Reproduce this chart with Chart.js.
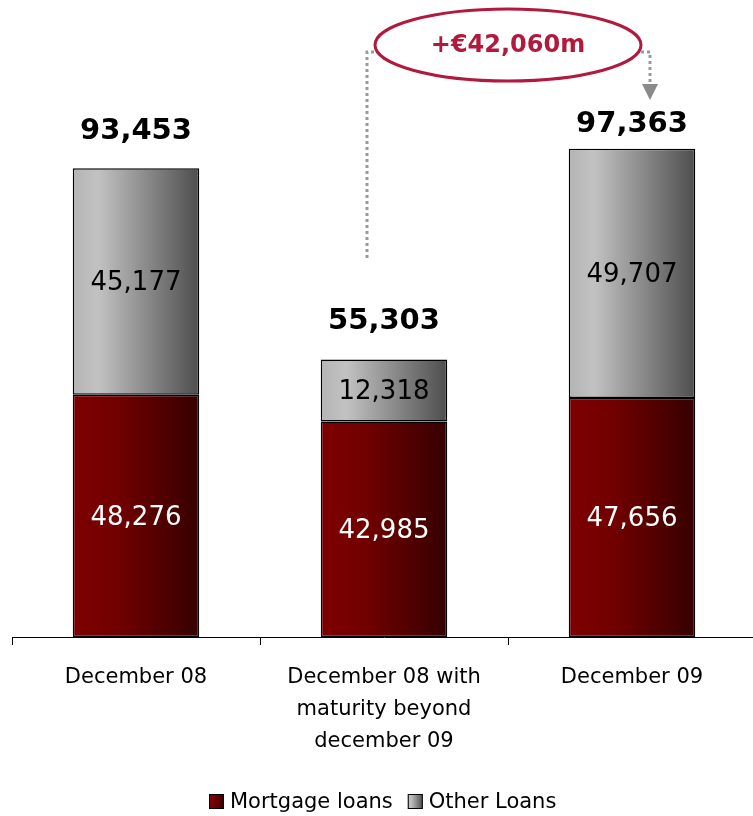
<!DOCTYPE html>
<html>
<head>
<meta charset="utf-8">
<script src="https://cdn.jsdelivr.net/npm/chart.js@4.4.1/dist/chart.umd.min.js"></script>
<style>
  html, body { margin: 0; padding: 0; background: #fff; overflow: hidden; }
</style>
</head>
<body>
<canvas id="loans" width="760" height="816"></canvas>
<script>
// loan book by type (€m)
const categories = [
    ['December 08'],
    ['December 08 with', 'maturity beyond', 'december 09'],
    ['December 09']
];
const mortgageLoans = [48276, 42985, 47656];
const otherLoans = [45177, 12318, 49707];
const seriesNames = ['Mortgage loans', 'Other Loans'];

const totals = mortgageLoans.map((v, i) => v + otherLoans[i]);
const change = totals[2] - totals[1];

const FONT = '"DejaVu Sans", Verdana, sans-serif';
const BAR_PCT = 0.51;
const totalLift = [37, 38, 24];

const redStops = [[0, '#7e0000'], [0.35, '#720000'], [1, '#360000']];
const greyStops = [[0, '#b4b4b4'], [0.2, '#c2c2c2'], [1, '#4e4e4e']];

const fmt = v => v.toLocaleString('en-US');

// horizontal gradient spanning one bar
function barGradient(context, stops) {
    const chart = context.chart;
    const xs = chart.scales.x;
    if (!chart.chartArea || !xs || !xs.width) return stops[0][1];
    const cx = xs.getPixelForValue(context.dataIndex);
    const half = (xs.width / categories.length) * BAR_PCT / 2;
    const g = chart.ctx.createLinearGradient(cx - half, 0, cx + half, 0);
    stops.forEach(([o, c]) => g.addColorStop(o, c));
    return g;
}

function fillSwatch(c, x, y, size, stops) {
    const g = c.createLinearGradient(x, 0, x + size, 0);
    stops.forEach(([o, col]) => g.addColorStop(o, col));
    c.fillStyle = g;
    c.fillRect(x, y, size, size);
    c.strokeStyle = '#000';
    c.lineWidth = 1;
    c.strokeRect(x + 0.5, y + 0.5, size - 1, size - 1);
}

const barLabels = {
    id: 'barLabels',
    afterDatasetsDraw(chart) {
        const c = chart.ctx;
        c.save();
        c.textAlign = 'center';
        c.textBaseline = 'middle';
        chart.data.datasets.forEach((ds, di) => {
            chart.getDatasetMeta(di).data.forEach((bar, i) => {
                c.font = '26px ' + FONT;
                c.fillStyle = di === 0 ? '#fff' : '#000';
                c.fillText(fmt(ds.data[i]), bar.x, (bar.y + bar.base) / 2 + 2);
            });
        });
        const xs = chart.scales.x, ys = chart.scales.y;
        c.font = 'bold 29px ' + FONT;
        c.fillStyle = '#000';
        totals.forEach((t, i) => {
            c.fillText(fmt(t), xs.getPixelForValue(i), ys.getPixelForValue(t) - totalLift[i]);
        });
        c.restore();
    }
};

// legend row under the axis labels
const swatchLegend = {
    id: 'swatchLegend',
    afterDraw(chart) {
        const c = chart.ctx;
        const stops = [redStops, greyStops];
        const box = 15, gapText = 6, gapItem = 15, y = 803;
        c.save();
        c.font = '21px ' + FONT;
        c.textBaseline = 'middle';
        c.textAlign = 'left';
        const widths = seriesNames.map(n => box + gapText + c.measureText(n).width);
        const total = widths.reduce((a, b) => a + b, 0) + gapItem * (widths.length - 1);
        let x = Math.round(383 - total / 2);
        seriesNames.forEach((n, i) => {
            fillSwatch(c, x, y - 9, box, stops[i]);
            c.fillStyle = '#000';
            c.fillText(n, x + box + gapText, y);
            x += widths[i] + gapItem;
        });
        c.restore();
    }
};

// bubble with the increase and the dotted connector
const changeCallout = {
    id: 'changeCallout',
    afterDraw(chart) {
        const c = chart.ctx;
        const xs = chart.scales.x;
        const x1 = xs.getPixelForValue(1);
        const x2 = xs.getPixelForValue(2);
        const cx = (x1 + x2) / 2, cy = 45;
        const rx = 133, ry = 36;
        const lx = x1 - 17, rxPos = x2 + 18;

        c.save();
        c.strokeStyle = '#9a9a9a';
        c.lineWidth = 3;
        c.setLineDash([3, 3]);
        c.beginPath();
        c.moveTo(lx, 258);
        c.lineTo(lx, 52);
        c.lineTo(cx - rx, 52);
        c.stroke();
        c.beginPath();
        c.moveTo(cx + rx, 52);
        c.lineTo(rxPos, 52);
        c.lineTo(rxPos, 84);
        c.stroke();
        c.setLineDash([]);
        c.fillStyle = '#8a8a8a';
        c.beginPath();
        c.moveTo(rxPos - 8, 84);
        c.lineTo(rxPos + 8, 84);
        c.lineTo(rxPos, 100);
        c.closePath();
        c.fill();

        c.fillStyle = '#fff';
        c.strokeStyle = '#b11a3c';
        c.lineWidth = 3;
        c.beginPath();
        c.ellipse(cx, cy, rx, ry, 0, 0, Math.PI * 2);
        c.fill();
        c.stroke();

        c.fillStyle = '#b11a3c';
        c.font = 'bold 24px ' + FONT;
        c.textAlign = 'center';
        c.textBaseline = 'middle';
        c.fillText('+€' + fmt(change) + 'm', cx, cy + 1);
        c.restore();
    }
};

new Chart(document.getElementById('loans'), {
    type: 'bar',
    data: {
        labels: categories,
        datasets: [
            {
                label: seriesNames[0],
                data: mortgageLoans,
                backgroundColor: ctx => barGradient(ctx, redStops),
                borderColor: '#000',
                borderWidth: 1.5,
                borderSkipped: false
            },
            {
                label: seriesNames[1],
                data: otherLoans,
                backgroundColor: ctx => barGradient(ctx, greyStops),
                borderColor: '#000',
                borderWidth: 1.5,
                borderSkipped: false
            }
        ]
    },
    options: {
        responsive: false,
        animation: false,
        datasets: { bar: { categoryPercentage: 1, barPercentage: BAR_PCT } },
        layout: { padding: { left: 12, right: 4, top: 10, bottom: 41 } },
        scales: {
            x: {
                stacked: true,
                grid: {
                    offset: true,
                    drawOnChartArea: false,
                    drawTicks: true,
                    tickLength: 8,
                    color: '#000'
                },
                border: { display: true, color: '#000', width: 1 },
                ticks: {
                    color: '#000',
                    padding: 17,
                    font: { family: FONT, size: 21, lineHeight: '32px' }
                }
            },
            y: {
                stacked: true,
                display: false,
                min: 0,
                max: 125000
            }
        },
        plugins: {
            legend: { display: false },
            tooltip: { enabled: false }
        }
    },
    plugins: [barLabels, changeCallout, swatchLegend]
});
</script>
</body>
</html>
